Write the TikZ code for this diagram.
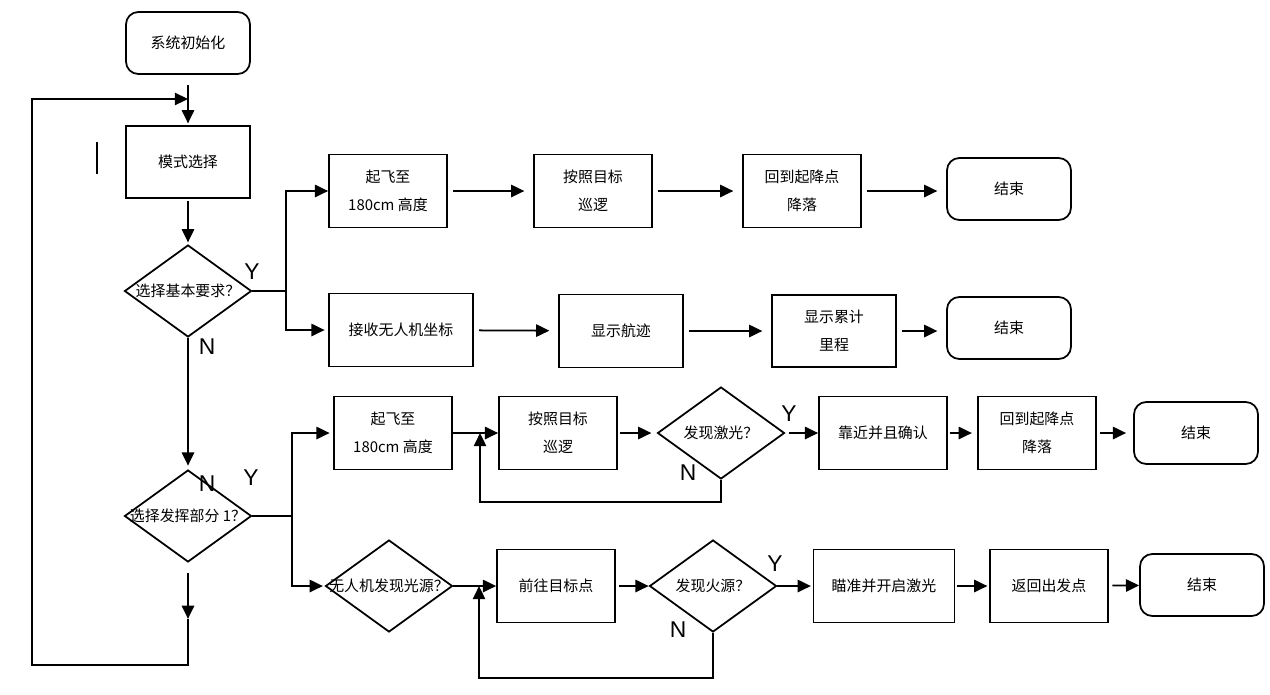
\documentclass[tikz,border=0pt]{standalone}
\usepackage{fontspec}
\newfontfamily\cjkfont{Noto Sans CJK SC}
\newfontfamily\ynfont{Liberation Sans}
\usetikzlibrary{shapes.geometric, arrows.meta, calc}
\tikzset{
  procbox/.style={rectangle, draw, line width=1pt, minimum width=2.36cm, minimum height=1.46cm, align=center, font=\cjkfont\fontsize{8.5}{16}\selectfont},
  termbox/.style={procbox, rounded corners=7pt, minimum width=2.48cm, minimum height=1.24cm},
  decision/.style={diamond, draw, line width=1pt, minimum width=2.54cm, minimum height=1.84cm, inner sep=0pt},
  dtext/.style={font=\cjkfont\fontsize{8.5}{10}\selectfont, inner sep=0pt},
  yn/.style={font=\ynfont\fontsize{13}{13}\selectfont, inner sep=0pt},
  arr/.style={-{Triangle[length=7.5pt, width=7pt]}, line width=1pt},
  gaparr/.style={arr, shorten <=3pt, shorten >=5pt},
  link/.style={line width=1pt}
}

\begin{document}
\begin{tikzpicture}[x=0.02cm, y=-0.02cm]
  \useasboundingbox (0,0) rectangle (1270,694);

  % main column
  \node[termbox] (init) at (188,43) {系统初始化};
  \node[procbox, minimum width=2.48cm, minimum height=1.44cm] (mode) at (188,162) {模式选择};
  \node[decision, label={[dtext]center:选择基本要求？}] (basic) at (188,291) {};
  \node[decision, label={[dtext]center:选择发挥部分 1？}] (extra) at (188,516) {};

  % basic task, first row
  \node[procbox] (fly1) at (388,191) {起飞至\\180cm 高度};
  \node[procbox] (patrol1) at (593,191) {按照目标\\巡逻};
  \node[procbox] (land1) at (802,191) {回到起降点\\降落};
  \node[termbox] (end1) at (1009,189) {结束};

  % basic task, second row
  \node[procbox, minimum width=2.88cm] (recv) at (401,330) {接收无人机坐标};
  \node[procbox, minimum width=2.48cm] (track) at (621,331) {显示航迹};
  \node[procbox, minimum width=2.48cm, minimum height=1.44cm] (dist) at (834,331) {显示累计\\里程};
  \node[termbox] (end2) at (1009,328) {结束};

  % extra task, laser row
  \node[procbox] (fly3) at (393,433) {起飞至\\180cm 高度};
  \node[procbox] (patrol3) at (558,433) {按照目标\\巡逻};
  \node[decision, label={[dtext]center:发现激光？}] (laser) at (721,433) {};
  \node[procbox, minimum width=2.56cm] (near) at (883,433) {靠近并且确认};
  \node[procbox] (land3) at (1037,433) {回到起降点\\降落};
  \node[termbox] (end3) at (1196,433) {结束};

  % extra task, fire row
  \node[decision, label={[dtext]center:无人机发现光源？}] (light) at (389,586) {};
  \node[procbox] (goto) at (556,586) {前往目标点};
  \node[decision, label={[dtext]center:发现火源？}] (fire) at (713,586) {};
  \node[procbox, minimum width=2.82cm] (aim) at (884,586) {瞄准并开启激光};
  \node[procbox] (ret) at (1049,586) {返回出发点};
  \node[termbox] (end4) at (1202,585) {结束};

  % Y / N marks
  \node[yn] (y1) at (252,272) {Y};
  \node[yn] (n1) at (207,347) {N};
  \node[yn] (y2) at (251,478) {Y};
  \node[yn] (n2) at (207,484) {N};
  \node[yn] (y3) at (789,414) {Y};
  \node[yn] (n3) at (688,473) {N};
  \node[yn] (y4) at (775,564) {Y};
  \node[yn] (n4) at (678,630) {N};

  \coordinate (entry) at (init.south |- 0,99);
  \coordinate (loopL) at (32,665);
  \coordinate (m3) at ($(fly3.east)!0.6!(patrol3.west)$);
  \coordinate (m4) at ($(light.east)!0.6!(goto.west)$);

  \draw[arr, shorten <=6pt, shorten >=1pt] (init) -- (mode);
  \draw[arr, shorten <=1pt, shorten >=1pt] (mode) -- (basic);
  \draw[arr, shorten >=2pt] (basic.south) -- (extra.north);

  \draw[link] (basic.east) -- ++(34,0) coordinate (fork1);
  \draw[arr] (fork1) |- (fly1.west);
  \draw[arr, shorten >=2pt] (fork1) |- (recv.west);
  \draw[gaparr] (fly1) -- (patrol1);
  \draw[gaparr] (patrol1) -- (land1);
  \draw[gaparr] (land1.east) -- (land1.east -| end1.west);
  \draw[gaparr] (recv) -- (track);
  \draw[gaparr] (track) -- (dist);
  \draw[gaparr] (dist.east) -- (dist.east -| end2.west);

  \draw[link] (extra.east) -- ++(40,0) coordinate (fork2);
  \draw[arr, shorten >=2pt] (fork2) |- (fly3.west);
  \draw[arr, shorten >=1pt] (fork2) |- (light.west);

  \draw[arr] (fly3.east) -- (patrol3.west);
  \draw[arr, shorten <=1pt, shorten >=3pt] (patrol3) -- (laser);
  \draw[arr, shorten <=2pt] (laser) -- (near);
  \draw[arr, shorten <=1pt, shorten >=3pt] (near) -- (land3);
  \draw[arr, shorten <=2pt, shorten >=4pt] (land3) -- (end3);
  \draw[arr] (laser.south) -- ++(0,22) -| (m3);

  \draw[arr] (light.east) -- (goto.west);
  \draw[arr, shorten <=2pt] (goto) -- (fire);
  \draw[arr, shorten >=1pt] (fire) -- (aim);
  \draw[arr, shorten <=1pt, shorten >=1pt] (aim) -- (ret);
  \draw[arr, shorten <=2pt] (ret) -- (end4);
  \draw[arr] (fire.south) -- ++(0,45) -| (m4);

  % back to mode selection
  \draw[arr] (extra.south) ++(0,10) -- ++(0,46) coordinate (back0);
  \draw[arr] (back0) |- (loopL) |- (entry);

  \draw[line width=0.6pt] (97,142) -- (97,174);
\end{tikzpicture}
\end{document}
